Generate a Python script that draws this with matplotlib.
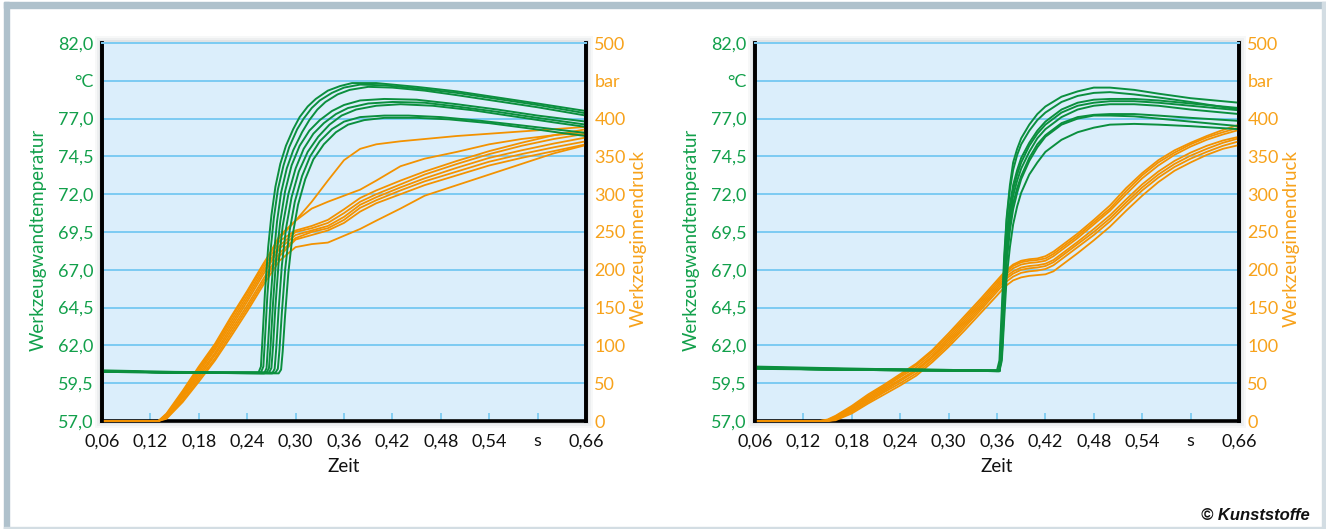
import matplotlib
matplotlib.use('Agg')
import matplotlib.pyplot as plt
from matplotlib.patches import Rectangle

plt.rcParams['font.family'] = ['Lato', 'DejaVu Sans']

# ---- data ----
x_ticks = [0.06, 0.12, 0.18, 0.24, 0.30, 0.36, 0.42, 0.48, 0.54, 0.60, 0.66]
x_labels = ['0,06', '0,12', '0,18', '0,24', '0,30', '0,36', '0,42', '0,48', '0,54', 's', '0,66']
t_ticks = [57.0, 59.5, 62.0, 64.5, 67.0, 69.5, 72.0, 74.5, 77.0, 79.5, 82.0]
t_labels = ['57,0', '59,5', '62,0', '64,5', '67,0', '69,5', '72,0', '74,5', '77,0', '°C', '82,0']
p_ticks = [0, 50, 100, 150, 200, 250, 300, 350, 400, 450, 500]
p_labels = ['0', '50', '100', '150', '200', '250', '300', '350', '400', 'bar', '500']

# left chart: wall temperature, one time list per run
left_temp_t = [
    [0.06, 0.15, 0.254, 0.257, 0.259, 0.262, 0.266, 0.270, 0.275, 0.281, 0.288, 0.297, 0.305, 0.315, 0.325, 0.34, 0.355, 0.37, 0.40, 0.45, 0.50, 0.55, 0.60, 0.66],
    [0.06, 0.15, 0.257, 0.260, 0.262, 0.265, 0.269, 0.273, 0.278, 0.285, 0.292, 0.302, 0.31, 0.32, 0.33, 0.345, 0.36, 0.38, 0.41, 0.45, 0.50, 0.55, 0.60, 0.66],
    [0.06, 0.15, 0.261, 0.264, 0.266, 0.269, 0.273, 0.277, 0.282, 0.289, 0.297, 0.308, 0.317, 0.327, 0.337, 0.352, 0.367, 0.39, 0.42, 0.46, 0.50, 0.55, 0.60, 0.66],
    [0.06, 0.15, 0.264, 0.267, 0.269, 0.272, 0.276, 0.281, 0.287, 0.295, 0.305, 0.317, 0.33, 0.345, 0.36, 0.38, 0.41, 0.45, 0.50, 0.55, 0.60, 0.66],
    [0.06, 0.15, 0.267, 0.270, 0.272, 0.275, 0.279, 0.284, 0.291, 0.30, 0.31, 0.322, 0.335, 0.35, 0.365, 0.39, 0.42, 0.46, 0.50, 0.55, 0.60, 0.66],
    [0.06, 0.15, 0.271, 0.274, 0.276, 0.279, 0.283, 0.288, 0.295, 0.304, 0.315, 0.328, 0.342, 0.357, 0.375, 0.40, 0.43, 0.47, 0.52, 0.57, 0.62, 0.66],
    [0.06, 0.15, 0.275, 0.278, 0.280, 0.283, 0.287, 0.292, 0.299, 0.308, 0.318, 0.33, 0.345, 0.36, 0.38, 0.41, 0.44, 0.48, 0.53, 0.58, 0.62, 0.66],
    [0.06, 0.15, 0.279, 0.282, 0.284, 0.287, 0.291, 0.296, 0.303, 0.312, 0.322, 0.335, 0.35, 0.365, 0.385, 0.41, 0.45, 0.49, 0.54, 0.59, 0.63, 0.66],
]
left_temp = [
    [60.35, 60.25, 60.2, 60.6, 62.5, 65.5, 68.5, 70.6, 72.5, 74.0, 75.2, 76.3, 77.1, 77.8, 78.3, 78.85, 79.15, 79.35, 79.35, 79.1, 78.8, 78.4, 78.0, 77.5],
    [60.3, 60.2, 60.2, 60.6, 62.4, 65.3, 68.3, 70.4, 72.3, 73.9, 75.1, 76.3, 77.0, 77.7, 78.2, 78.7, 79.05, 79.25, 79.2, 79.0, 78.7, 78.3, 77.9, 77.35],
    [60.3, 60.2, 60.15, 60.5, 62.2, 65.0, 68.0, 70.2, 72.1, 73.7, 74.9, 76.1, 76.9, 77.6, 78.1, 78.6, 78.9, 79.1, 79.05, 78.85, 78.55, 78.15, 77.75, 77.2],
    [60.3, 60.2, 60.2, 60.5, 62.0, 64.8, 67.8, 70.2, 72.2, 73.9, 75.2, 76.2, 76.9, 77.5, 77.9, 78.2, 78.3, 78.25, 77.95, 77.6, 77.2, 76.8],
    [60.25, 60.2, 60.2, 60.5, 61.9, 64.6, 67.5, 69.9, 72.0, 73.7, 75.0, 76.0, 76.7, 77.3, 77.7, 78.0, 78.1, 78.05, 77.8, 77.45, 77.05, 76.6],
    [60.3, 60.2, 60.15, 60.45, 61.8, 64.4, 67.3, 69.7, 71.8, 73.5, 74.8, 75.8, 76.6, 77.2, 77.6, 77.85, 77.95, 77.85, 77.55, 77.15, 76.75, 76.45],
    [60.3, 60.2, 60.2, 60.45, 61.7, 64.2, 67.0, 69.4, 71.5, 73.2, 74.5, 75.5, 76.3, 76.8, 77.1, 77.2, 77.2, 77.1, 76.85, 76.55, 76.3, 76.05],
    [60.25, 60.2, 60.15, 60.4, 61.6, 64.0, 66.8, 69.2, 71.3, 73.0, 74.3, 75.3, 76.1, 76.6, 76.9, 77.05, 77.05, 76.95, 76.7, 76.35, 76.05, 75.85],
]

# left chart: cavity pressure
left_press_t = [0.06, 0.13, 0.14, 0.16, 0.18, 0.20, 0.22, 0.24, 0.26, 0.28, 0.30, 0.32, 0.34,
                0.36, 0.38, 0.40, 0.43, 0.46, 0.50, 0.54, 0.58, 0.62, 0.66]
left_press = [
    [0, 0, 10, 40, 72, 102, 138, 172, 208, 242, 265, 290, 318, 345, 360, 366, 370, 373, 377, 380, 383, 386, 389],
    [0, 0, 9, 38, 70, 100, 136, 170, 206, 245, 265, 281, 290, 298, 306, 318, 337, 347, 356, 366, 373, 378, 382],
    [0, 0, 8, 36, 67, 97, 132, 166, 202, 238, 252, 258, 266, 280, 295, 305, 318, 330, 344, 357, 368, 378, 386],
    [0, 0, 7, 34, 64, 94, 128, 162, 198, 232, 250, 255, 262, 275, 290, 300, 313, 326, 340, 353, 364, 373, 380],
    [0, 0, 6, 32, 61, 90, 124, 158, 194, 228, 246, 252, 258, 270, 286, 296, 309, 321, 335, 348, 358, 367, 375],
    [0, 0, 5, 30, 58, 87, 120, 153, 188, 222, 242, 250, 255, 266, 282, 292, 305, 317, 330, 343, 353, 362, 370],
    [0, 0, 4, 27, 55, 83, 116, 149, 184, 218, 240, 246, 252, 262, 277, 288, 300, 312, 325, 338, 348, 357, 366],
    [0, 0, 3, 25, 52, 80, 112, 145, 180, 212, 230, 234, 236, 245, 254, 265, 281, 298, 312, 326, 340, 354, 365],
]

# right chart: wall temperature
right_temp_t = [0.06, 0.15, 0.25, 0.36, 0.363, 0.366, 0.369, 0.372, 0.376, 0.38, 0.385, 0.39, 0.40,
                0.41, 0.42, 0.44, 0.46, 0.48, 0.50, 0.53, 0.56, 0.60, 0.63, 0.66]
right_temp = [
    [60.55, 60.45, 60.4, 60.35, 61.0, 64.5, 68.0, 70.5, 72.6, 74.1, 75.0, 75.7, 76.6, 77.3, 77.8, 78.45, 78.8, 79.05, 79.05, 78.9, 78.65, 78.35, 78.2, 78.05],
    [60.5, 60.45, 60.4, 60.35, 60.35, 63.5, 67.5, 70.3, 72.3, 73.6, 74.6, 75.3, 76.2, 76.9, 77.4, 78.1, 78.5, 78.7, 78.75, 78.6, 78.4, 78.1, 77.85, 77.6],
    [60.6, 60.5, 60.4, 60.3, 60.3, 62.5, 66.5, 69.3, 71.3, 72.6, 73.6, 74.4, 75.4, 76.2, 76.8, 77.6, 78.05, 78.25, 78.3, 78.3, 78.2, 78.0, 77.85, 77.7],
    [60.5, 60.4, 60.35, 60.3, 60.3, 62.0, 66.0, 69.0, 71.0, 72.3, 73.3, 74.1, 75.2, 76.0, 76.6, 77.4, 77.85, 78.05, 78.15, 78.15, 78.05, 77.85, 77.7, 77.55],
    [60.45, 60.4, 60.35, 60.3, 60.3, 61.8, 65.5, 68.5, 70.5, 71.9, 72.9, 73.7, 74.8, 75.7, 76.3, 77.1, 77.6, 77.85, 77.95, 77.95, 77.85, 77.6, 77.45, 77.3],
    [60.5, 60.4, 60.35, 60.3, 60.3, 61.5, 65.0, 68.0, 70.0, 71.4, 72.4, 73.2, 74.4, 75.3, 75.9, 76.7, 77.1, 77.25, 77.3, 77.3, 77.2, 77.05, 76.95, 76.85],
    [60.55, 60.45, 60.4, 60.35, 60.35, 61.3, 64.5, 67.5, 69.6, 71.0, 72.1, 73.0, 74.2, 75.1, 75.8, 76.6, 77.0, 77.2, 77.2, 77.15, 77.0, 76.8, 76.65, 76.5],
    [60.5, 60.4, 60.35, 60.3, 60.3, 61.0, 63.8, 66.5, 68.5, 70.0, 71.2, 72.1, 73.3, 74.1, 74.8, 75.6, 76.1, 76.4, 76.6, 76.65, 76.6, 76.5, 76.4, 76.3],
]

# right chart: cavity pressure
right_press_t = [0.06, 0.14, 0.15, 0.16, 0.18, 0.20, 0.22, 0.24, 0.26, 0.28, 0.30, 0.32, 0.34, 0.36, 0.37,
                 0.38, 0.39, 0.40, 0.41, 0.42, 0.43, 0.44, 0.46, 0.48, 0.50, 0.52, 0.54, 0.56, 0.58,
                 0.60, 0.62, 0.64, 0.66]
right_press = [
    [0, 0, 2, 7, 20, 35, 48, 62, 76, 94, 116, 139, 162, 186, 198, 207, 212, 214, 215, 218, 224, 232, 248, 266, 285, 308, 328, 345, 358, 368, 377, 385, 392],
    [0, 0, 1, 6, 18, 33, 46, 60, 74, 92, 113, 136, 159, 183, 196, 205, 210, 212, 213, 215, 221, 229, 245, 263, 281, 304, 325, 342, 355, 366, 375, 382, 388],
    [0, 0, 1, 5, 17, 31, 44, 58, 71, 89, 110, 133, 156, 180, 193, 202, 207, 209, 210, 212, 218, 226, 242, 260, 278, 300, 321, 338, 352, 363, 372, 379, 385],
    [0, 0, 0, 4, 15, 29, 42, 55, 68, 86, 107, 130, 153, 177, 190, 198, 203, 205, 206, 208, 213, 221, 237, 254, 272, 293, 313, 330, 344, 355, 364, 371, 376],
    [0, 0, 0, 3, 14, 27, 40, 53, 66, 84, 104, 127, 150, 174, 187, 195, 200, 202, 203, 205, 210, 218, 234, 250, 268, 289, 309, 326, 340, 351, 360, 368, 374],
    [0, 0, 0, 2, 12, 25, 38, 50, 63, 81, 101, 124, 147, 171, 183, 191, 196, 198, 199, 201, 206, 214, 230, 246, 264, 285, 305, 322, 336, 347, 356, 364, 370],
    [0, 0, 0, 1, 10, 23, 35, 47, 60, 78, 98, 120, 143, 166, 178, 186, 190, 192, 193, 194, 198, 206, 222, 239, 257, 278, 298, 316, 331, 342, 352, 360, 365],
]

GREEN = '#0b8f3e'
GREEN_TXT = '#12a04b'
ORANGE = '#f39200'
ORANGE_TXT = '#f7a21b'
BG = '#dbeefb'
GRID = '#7ccbf2'

W, H = 1326, 529
fig = plt.figure(figsize=(W / 100, H / 100), dpi=100)


def px(x0, y0, w, h):
    # pixel box (top-left origin) -> figure fraction
    return [x0 / W, 1 - (y0 + h) / H, w / W, h / H]


# frame around the whole graphic
fig.add_artist(Rectangle((4 / W, 0), 5 / W, 1 - 2 / H, transform=fig.transFigure, color='#afc1cc', zorder=-2))
fig.add_artist(Rectangle((4 / W, 1 - 8 / H), 1 - 4 / W, 6 / H, transform=fig.transFigure, color='#afc1cc', zorder=-2))
fig.add_artist(Rectangle((1 - 4 / W, 0), 4 / W, 1 - 2 / H, transform=fig.transFigure, color='#d3dde3', zorder=-2))
fig.add_artist(Rectangle((4 / W, 0), 1 - 4 / W, 2 / H, transform=fig.transFigure, color='#d3dde3', zorder=-2))


def draw_panel(x0, temp_t, temp_runs, press_t, press_runs, shared_t):
    y0, w, h = 43, 484, 378
    # soft shadow
    for d, a in [(7, 0.05), (5, 0.07), (3, 0.1)]:
        fig.add_artist(Rectangle(((x0 - d) / W, 1 - (y0 + h + d) / H), (w + 2 * d) / W, (h + 2 * d) / H,
                                 transform=fig.transFigure, color='#6f7f88', alpha=a, lw=0, zorder=-1))

    ax = fig.add_axes(px(x0, y0, w, h))
    ax.set_facecolor(BG)
    ax.set_xlim(0.06, 0.66)
    ax.set_ylim(0, 500)
    for run in press_runs:
        ax.plot(press_t, run, color=ORANGE, lw=1.3, solid_joinstyle='round', zorder=3, clip_on=False)
    ax.grid(axis='y', color=GRID, lw=1.4)
    ax.set_axisbelow(True)

    ax2 = ax.twinx()
    ax2.set_ylim(57, 82)
    if shared_t:
        for run in temp_runs:
            ax2.plot(temp_t, run, color=GREEN, lw=1.4, solid_joinstyle='round')
    else:
        for t, run in zip(temp_t, temp_runs):
            ax2.plot(t, run, color=GREEN, lw=1.4, solid_joinstyle='round')

    # pressure ticks to the right, temperature to the left
    ax.yaxis.tick_right()
    ax2.yaxis.tick_left()
    ax.set_yticks(p_ticks)
    ax.set_yticklabels(p_labels)
    ax2.set_yticks(t_ticks)
    ax2.set_yticklabels(t_labels)
    ax.tick_params(axis='y', length=0, pad=6, labelsize=13, labelcolor=ORANGE_TXT)
    ax2.tick_params(axis='y', length=0, pad=6, labelsize=13, labelcolor=GREEN_TXT)

    ax.set_xticks(x_ticks)
    ax.set_xticklabels(x_labels)
    ax.tick_params(axis='x', direction='in', length=6, width=1.3, color=GRID,
                   pad=9, labelsize=13, labelcolor='#111111')

    for a in (ax, ax2):
        for s in ('left', 'right', 'bottom'):
            a.spines[s].set_color('black')
            a.spines[s].set_linewidth(2.6)
        a.spines['top'].set_color(GRID)
        a.spines['top'].set_linewidth(1.4)
    # let the zero-pressure line sit on the bottom spine
    ax2.spines['bottom'].set_visible(False)

    cx = x0 + w / 2
    fig.text((x0 - 64) / W, 1 - 240 / H, 'Werkzeugwandtemperatur', rotation=90,
             ha='center', va='center', fontsize=13.5, color=GREEN_TXT)
    fig.text((x0 + w + 52) / W, 1 - 238 / H, 'Werkzeuginnendruck', rotation=90,
             ha='center', va='center', fontsize=13.5, color=ORANGE_TXT)
    fig.text(cx / W, 1 - 467 / H, 'Zeit', ha='center', va='center', fontsize=13.5, color='#111111')


draw_panel(102, left_temp_t, left_temp, left_press_t, left_press, False)
draw_panel(755, right_temp_t, right_temp, right_press_t, right_press, True)

fig.text(1310 / W, 1 - 515 / H, '© Kunststoffe', ha='right', va='center', fontsize=12,
         fontweight='bold', fontstyle='italic',
         family=['Liberation Sans Narrow', 'Liberation Sans', 'DejaVu Sans'], color='#111111')

fig.savefig('out.png', dpi=100, facecolor='white')
